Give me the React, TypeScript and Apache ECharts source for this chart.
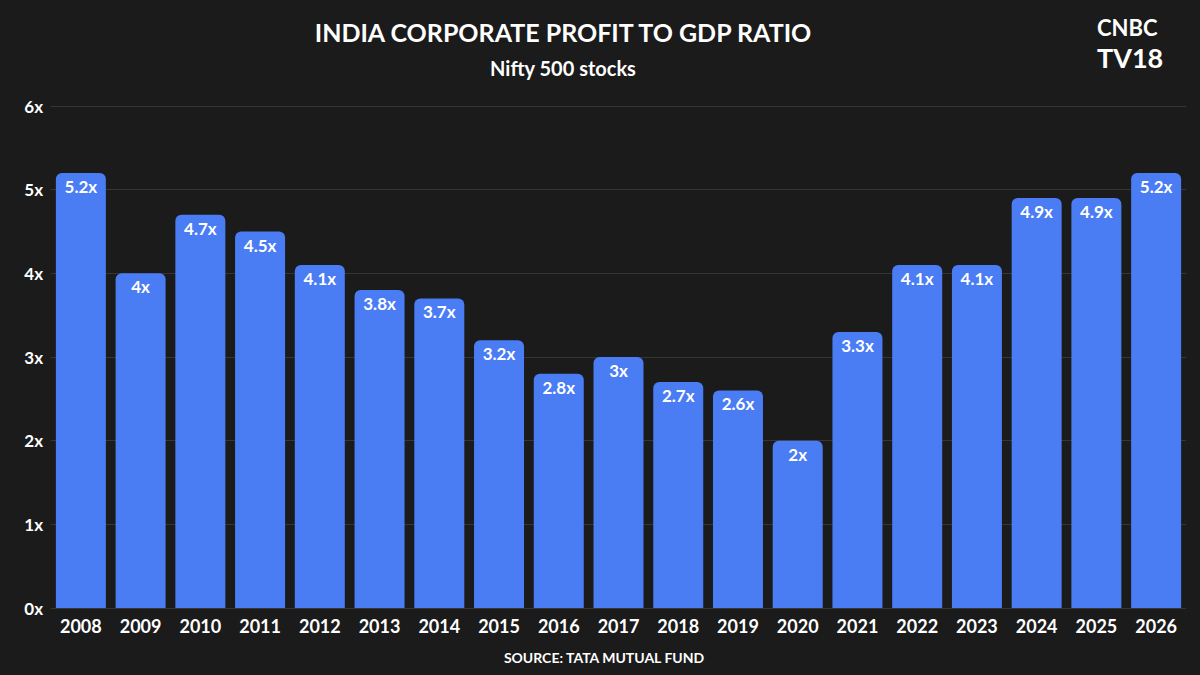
import React, { useEffect, useRef } from "react";
import * as echarts from "echarts";

const categories = ["2008","2009","2010","2011","2012","2013","2014","2015","2016","2017","2018","2019","2020","2021","2022","2023","2024","2025","2026"];
const ratios = [5.2, 4, 4.7, 4.5, 4.1, 3.8, 3.7, 3.2, 2.8, 3, 2.7, 2.6, 2, 3.3, 4.1, 4.1, 4.9, 4.9, 5.2];
const yTicks = [0, 1, 2, 3, 4, 5, 6];

const FONT = "Lato, 'Open Sans', sans-serif";

export default function App() {
  const ref = useRef<HTMLDivElement>(null);
  useEffect(() => {
    if (!ref.current) return;
    const chart = echarts.init(ref.current, null, { renderer: "svg" });
    chart.setOption({
      animation: false,
      backgroundColor: "#1b1b1b",
      textStyle: { fontFamily: FONT },
      title: [
        {
          text: "INDIA CORPORATE PROFIT TO GDP RATIO",
          left: 558,
          top: 14,
          textAlign: "center",
          textStyle: { color: "#ffffff", fontSize: 25, fontWeight: "bold", fontFamily: FONT },
        },
        {
          text: "Nifty 500 stocks",
          left: 558,
          top: 53,
          textAlign: "center",
          textStyle: { color: "#ffffff", fontSize: 20, fontWeight: "bold", fontFamily: FONT },
        },
        {
          text: "SOURCE: TATA MUTUAL FUND",
          left: 599,
          top: 645,
          textAlign: "center",
          textStyle: { color: "#ffffff", fontSize: 14, fontWeight: "bold", fontFamily: FONT },
        },
      ],
      graphic: [
        {
          type: "text",
          left: 1097,
          top: 16,
          style: { text: "CNBC", fill: "#ffffff", font: `bold 22px ${FONT}`, lineHeight: 22 },
        },
        {
          type: "text",
          left: 1097,
          top: 44,
          style: { text: "TV18", fill: "#ffffff", font: `bold 27px ${FONT}`, lineHeight: 27 },
        },
      ],
      grid: { left: 51, right: 14, top: 106, bottom: 67, containLabel: false },
      xAxis: {
        type: "category",
        data: categories,
        axisLine: { show: false },
        axisTick: { show: false },
        axisLabel: { color: "#ffffff", fontSize: 18, fontWeight: "bold", margin: 9, fontFamily: FONT },
      },
      yAxis: {
        type: "value",
        min: yTicks[0],
        max: yTicks[yTicks.length - 1],
        interval: 1,
        axisLine: { show: false },
        axisTick: { show: false },
        axisLabel: {
          color: "#ffffff",
          fontSize: 17,
          fontWeight: "bold",
          margin: 8,
          fontFamily: FONT,
          formatter: (v: number) => `${v}x`,
        },
        splitLine: { lineStyle: { color: "rgba(255,255,255,0.12)", width: 1 } },
      },
      series: [
        {
          type: "bar",
          data: ratios,
          barWidth: 50,
          itemStyle: { color: "#4a7cf4", borderRadius: [6, 6, 0, 0] },
          label: {
            show: true,
            position: "insideTop",
            distance: 5,
            color: "#ffffff",
            fontSize: 17,
            fontWeight: "bold",
            fontFamily: FONT,
            formatter: (p: any) => `${p.value}x`,
          },
        },
      ],
    });
    return () => chart.dispose();
  }, []);
  return <div ref={ref} style={{ position: "fixed", left: 0, top: 0, width: 1200, height: 675 }} />;
}
